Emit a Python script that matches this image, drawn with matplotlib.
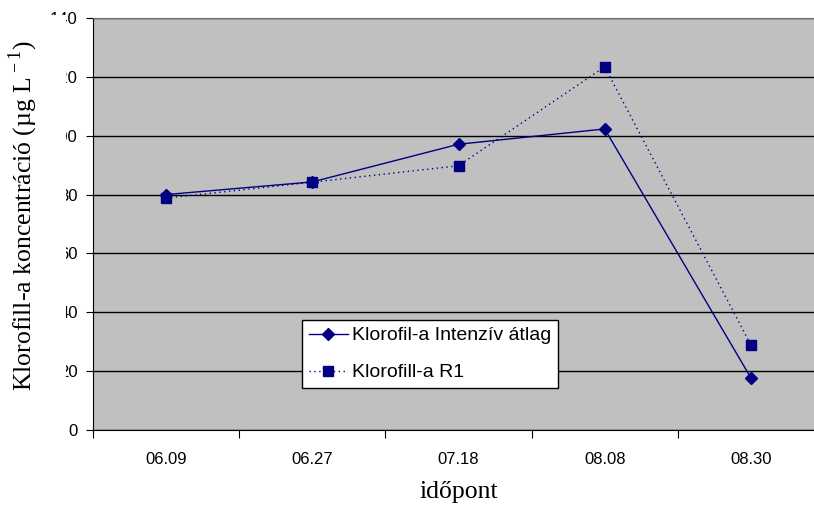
import numpy as np
import matplotlib
matplotlib.use("Agg")
import matplotlib.pyplot as plt

# mérési időpontok és klorofill-a értékek (µg/L)
datumok = ["06.09", "06.27", "07.18", "08.08", "08.30"]
intenziv_atlag = [80.0, 84.3, 97.1, 102.3, 17.7]
r1 = [78.8, 84.2, 89.8, 123.4, 28.9]
y_ticks = [0, 20, 40, 60, 80, 100, 120, 140]

plt.rcParams['font.family'] = ['Liberation Sans', 'DejaVu Sans']
plt.rcParams['mathtext.fontset'] = 'custom'
plt.rcParams['mathtext.rm'] = 'Liberation Serif'

fig = plt.figure(figsize=(8.14, 5.09), dpi=100)
ax = fig.add_axes([93 / 814, 79 / 509, 731 / 814, 412 / 509])
ax.set_facecolor('#c0c0c0')

x = np.arange(len(datumok))
ax.plot(x, intenziv_atlag, color='#000080', lw=1.0, marker='D', ms=6.5,
        label='Klorofil-a Intenzív átlag', zorder=3)
ax.plot(x, r1, color='#000080', lw=1.0, ls=(0, (1, 2.5)), marker='s', ms=7,
        label='Klorofill-a R1', zorder=3)

ax.set_xlim(-0.5, len(datumok) - 0.5)
ax.set_ylim(0, 140)
ax.set_yticks(y_ticks)
ax.yaxis.grid(True, color='black', lw=1.0)
ax.set_axisbelow(True)

# kategória határoknál tick, középen felirat
ax.set_xticks(np.arange(-0.5, len(datumok) + 0.5, 1.0))
ax.set_xticklabels([])
ax.set_xticks(x, minor=True)
ax.set_xticklabels(datumok, minor=True, fontsize=12)
ax.tick_params(axis='x', which='major', length=6, direction='out', color='black')
ax.tick_params(axis='x', which='minor', length=0, pad=16)
ax.tick_params(axis='y', length=5, direction='out', labelsize=12, pad=6)

for s in ['top', 'right']:
    ax.spines[s].set_color('#707070')
for s in ['left', 'bottom']:
    ax.spines[s].set_color('black')

ax.set_xlabel('időpont', family='Liberation Serif', fontsize=18.5, labelpad=10)
ax.set_ylabel(r'Klorofill-a koncentráció (µg L$^{\rm -1}$)', family='Liberation Serif',
              fontsize=18.5, bbox=dict(boxstyle='square,pad=1.0', fc='white', ec='none'))
ax.yaxis.set_label_coords(-53 / 731, 0.52)

leg = ax.legend(loc='upper left', bbox_to_anchor=(209 / 731, 110 / 412),
                fontsize=14, frameon=True, fancybox=False, framealpha=1,
                edgecolor='black', handlelength=2.0, handletextpad=0.2,
                labelspacing=1.0, borderpad=0.35, borderaxespad=0)
leg.get_frame().set_linewidth(1.0)

fig.savefig('out.png', dpi=100)
